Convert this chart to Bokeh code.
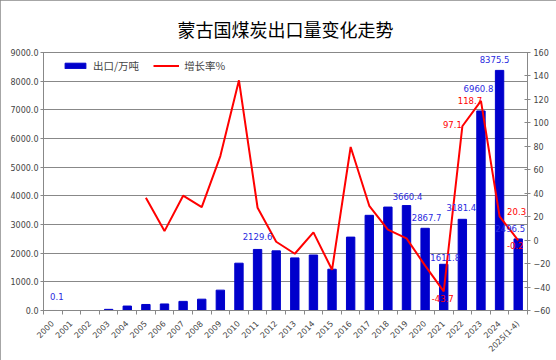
import math
from bokeh.plotting import figure
from bokeh.models import (Range1d, LinearAxis, FixedTicker, NumeralTickFormatter,
                          ColumnDataSource, Legend, LegendItem, LabelSet)
from bokeh.core.properties import value
from bokeh.embed import file_html
from bokeh.resources import INLINE

# ---------------- data ----------------
years = ["2000", "2001", "2002", "2003", "2004", "2005", "2006", "2007", "2008",
         "2009", "2010", "2011", "2012", "2013", "2014", "2015", "2016", "2017",
         "2018", "2019", "2020", "2021", "2022", "2023", "2024", "2025(1-4)"]
exports = [0.1, 0, 0, 40, 155, 210, 228, 318, 395, 710, 1650, 2129.6, 2080,
           1835, 1935, 1440, 2560, 3320, 3608, 3660.4, 2867.7, 1611.8, 3181.4,
           6960.8, 8375.5, 2496.5]
growth_years = years[5:]
growth = [36.2, 7.7, 37.9, 28.2, 71.7, 136.3, 27.6, -1.4, -11.6, 6.6, -25.3,
          79.4, 29.3, 8.9, 1.5, -21.7, -43.7, 97.1, 118.7, 20.3, -0.2]
left_ticks = [0, 1000, 2000, 3000, 4000, 5000, 6000, 7000, 8000, 9000]
right_ticks = [-60, -40, -20, 0, 20, 40, 60, 80, 100, 120, 140, 160]

export_label_years = ["2000", "2011", "2019", "2020", "2021", "2022", "2023", "2024", "2025(1-4)"]
growth_label_years = ["2021", "2022", "2023", "2024", "2025(1-4)"]

# label placement (pixels, positive = right / down)
export_label_dx = [4, 0, 1, 1.5, 1.5, -1, -2.5, -5, -8]
export_label_dy = [-14, -13, -9, -11, -7, -12, -22, -11, -10]
growth_label_dx = [-1, -10, -11, 17, -3]
growth_label_dy = [7, -2, 0, -5, 5]

# ---------------- figure ----------------
idx = list(range(len(years)))
FONT = "DejaVu Sans"
GRAY = "#888888"

p = figure(width=556, height=360, output_backend="svg", toolbar_location=None,
           x_range=Range1d(-0.5, len(years) - 0.5), y_range=Range1d(0, 9000),
           min_border_left=43, min_border_right=29, min_border_top=52,
           min_border_bottom=50)
p.extra_y_ranges = {"g": Range1d(-60, 160)}

p.title.text = "蒙古国煤炭出口量变化走势"
p.title.align = "center"
p.title.text_font = "Noto Sans CJK SC"
p.title.text_font_size = "18px"
p.title.text_font_style = "normal"
p.title.text_color = "black"
p.title.standoff = 22

p.outline_line_color = GRAY
p.xgrid.grid_line_color = None
p.ygrid.grid_line_color = GRAY
p.ygrid.ticker = FixedTicker(ticks=left_ticks)

bars = p.vbar(x=idx, top=exports, width=0.45, color="#0000CC")
g_idx = [years.index(y) for y in growth_years]
line = p.line(x=g_idx, y=growth, y_range_name="g", line_color="#FF0000", line_width=2)

# x axis
xa = p.xaxis[0]
xa.ticker = FixedTicker(ticks=idx, minor_ticks=[i - 0.5 for i in range(len(years) + 1)])
xa.major_label_overrides = {i: years[i] for i in idx}
xa.major_label_orientation = math.pi / 4
xa.major_tick_line_color = None
xa.major_tick_in = 0
xa.major_tick_out = 0
xa.minor_tick_line_color = GRAY
xa.minor_tick_in = 0
xa.minor_tick_out = 4
xa.axis_line_color = GRAY
xa.major_label_text_font = FONT
xa.major_label_text_font_size = "8px"
xa.major_label_standoff = 8

# left axis
ya = p.yaxis[0]
ya.ticker = FixedTicker(ticks=left_ticks)
ya.formatter = NumeralTickFormatter(format="0.0")
ya.major_tick_in = 3
ya.major_tick_out = 3
ya.major_tick_line_color = GRAY
ya.minor_tick_line_color = None
ya.axis_line_color = GRAY
ya.major_label_text_font = FONT
ya.major_label_text_font_size = "8px"
ya.major_label_standoff = 2

# right axis
ra = LinearAxis(y_range_name="g", ticker=FixedTicker(ticks=right_ticks))
ra.major_tick_in = 3
ra.major_tick_out = 3
ra.major_tick_line_color = GRAY
ra.minor_tick_line_color = None
ra.axis_line_color = GRAY
ra.major_label_text_font = FONT
ra.major_label_text_font_size = "8px"
ra.major_label_standoff = 3
p.add_layout(ra, "right")

# data labels
e_src = ColumnDataSource(dict(
    x=[years.index(y) for y in export_label_years],
    y=[exports[years.index(y)] for y in export_label_years],
    text=["%.1f" % exports[years.index(y)] for y in export_label_years],
    xo=export_label_dx, yo=[-d for d in export_label_dy]))
p.add_layout(LabelSet(x="x", y="y", text="text", x_offset="xo", y_offset="yo",
                      source=e_src, text_align="center", text_baseline="middle",
                      text_color="#2A2AE0", text_font=value(FONT),
                      text_font_size="8.5px", level="overlay"))

g_src = ColumnDataSource(dict(
    x=[years.index(y) for y in growth_label_years],
    y=[growth[growth_years.index(y)] for y in growth_label_years],
    text=["%.1f" % growth[growth_years.index(y)] for y in growth_label_years],
    xo=growth_label_dx, yo=[-d for d in growth_label_dy]))
p.add_layout(LabelSet(x="x", y="y", text="text", x_offset="xo", y_offset="yo",
                      source=g_src, y_range_name="g", text_align="center",
                      text_baseline="middle", text_color="#FF0000",
                      text_font=value(FONT), text_font_size="8.5px", level="overlay"))

legend = Legend(items=[LegendItem(label="出口/万吨", renderers=[bars]),
                       LegendItem(label="增长率%", renderers=[line])],
                location=(19, 237), orientation="horizontal",
                border_line_color=None, background_fill_alpha=0,
                label_text_font="Noto Sans CJK SC", label_text_font_size="10.5px",
                glyph_width=26, glyph_height=7, label_height=14, spacing=14,
                padding=0, margin=0, label_standoff=5)
p.add_layout(legend)

p.styles = {"outline": "1px solid #888888", "outline-offset": "-1px"}

open("out.html", "w").write(file_html(p, INLINE))
